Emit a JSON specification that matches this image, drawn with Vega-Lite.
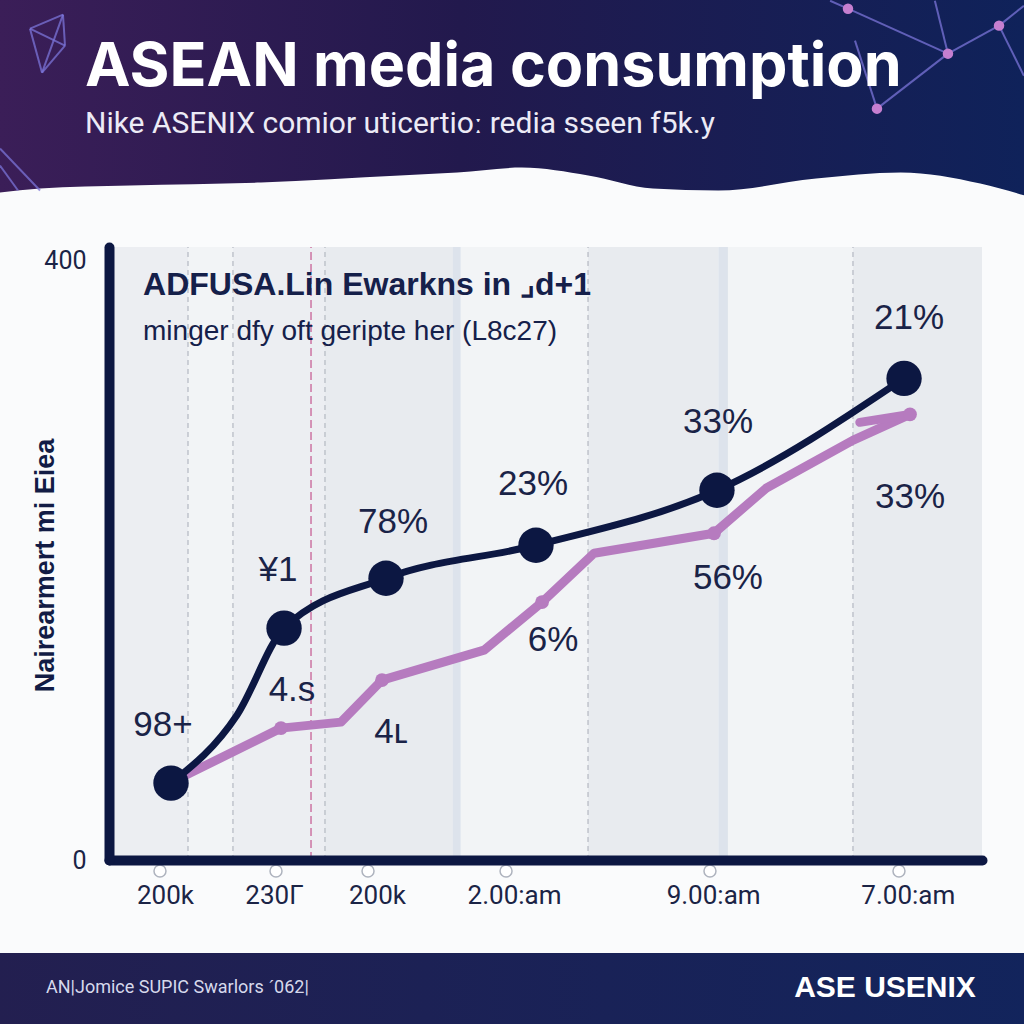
{
  "$schema": "https://vega.github.io/schema/vega-lite/v6.json",
  "width": 873,
  "height": 613,
  "autosize": {"type": "none"},
  "padding": {"left": 109, "top": 247, "right": 42, "bottom": 164},
  "background": "#fafbfc",
  "view": {"stroke": null, "fill": null},
  "config": {"font": "Liberation Sans"},
  "datasets": {
    "bands": [
      {"t": 0, "t2": 9.05, "tone": "mid"},
      {"t": 9.05, "t2": 14.2, "tone": "light"},
      {"t": 14.2, "t2": 24.74, "tone": "mid"},
      {"t": 24.74, "t2": 39.4, "tone": "dark"},
      {"t": 39.4, "t2": 40.3, "tone": "blue"},
      {"t": 40.3, "t2": 54.87, "tone": "light"},
      {"t": 54.87, "t2": 69.8, "tone": "dark"},
      {"t": 69.8, "t2": 70.9, "tone": "blue"},
      {"t": 70.9, "t2": 85.22, "tone": "light"},
      {"t": 85.22, "t2": 100, "tone": "dark"}
    ],
    "grid": [
      {"t": 9.05, "kind": "gray"},
      {"t": 14.2, "kind": "gray"},
      {"t": 24.74, "kind": "gray"},
      {"t": 54.87, "kind": "gray"},
      {"t": 85.22, "kind": "gray"},
      {"t": 23.14, "kind": "pink"}
    ],
    "wave": [
      {"t": -12.6, "v": 445.3},
      {"t": -7.9, "v": 448},
      {"t": 2.4, "v": 450},
      {"t": 17.4, "v": 452},
      {"t": 33.3, "v": 456.7},
      {"t": 39.9, "v": 458.7},
      {"t": 47.3, "v": 462},
      {"t": 54.9, "v": 456.7},
      {"t": 62.3, "v": 448},
      {"t": 69.8, "v": 446.7},
      {"t": 81.0, "v": 454.7},
      {"t": 90.7, "v": 458.7},
      {"t": 99.8, "v": 451.3},
      {"t": 104.9, "v": 443.3}
    ],
    "net": [
      {"seg": "A", "t": 84.65, "v": 568}, {"seg": "A", "t": 96.1, "v": 538},
      {"seg": "B", "t": 96.1, "v": 538}, {"seg": "B", "t": 87.97, "v": 501.3},
      {"seg": "C", "t": 96.1, "v": 538}, {"seg": "C", "t": 101.95, "v": 556.7},
      {"seg": "D", "t": 101.95, "v": 556.7}, {"seg": "D", "t": 104.8, "v": 570},
      {"seg": "E", "t": 96.1, "v": 538}, {"seg": "E", "t": 94.6, "v": 573.3},
      {"seg": "F", "t": 87.97, "v": 501.3}, {"seg": "F", "t": 85.45, "v": 546.7},
      {"seg": "G", "t": 101.95, "v": 556.7}, {"seg": "G", "t": 104.8, "v": 523.3},
      {"seg": "H", "t": 84.65, "v": 568}, {"seg": "H", "t": 82.6, "v": 573.3},
      {"seg": "S1", "t": -5.27, "v": 564}, {"seg": "S1", "t": -9.05, "v": 554.7},
      {"seg": "S2", "t": -9.05, "v": 554.7}, {"seg": "S2", "t": -7.67, "v": 525.3},
      {"seg": "S3", "t": -7.67, "v": 525.3}, {"seg": "S3", "t": -5.27, "v": 564},
      {"seg": "S4", "t": -9.05, "v": 554.7}, {"seg": "S4", "t": -5.04, "v": 543.3},
      {"seg": "S5", "t": -5.04, "v": 543.3}, {"seg": "S5", "t": -7.67, "v": 525.3},
      {"seg": "S6", "t": -5.27, "v": 564}, {"seg": "S6", "t": -5.04, "v": 543.3},
      {"seg": "L1", "t": -12.49, "v": 474.7}, {"seg": "L1", "t": -7.9, "v": 446.7},
      {"seg": "L2", "t": -12.49, "v": 463.3}, {"seg": "L2", "t": -10.42, "v": 446.7}
    ],
    "nodes": [
      {"t": 84.65, "v": 568},
      {"t": 96.1, "v": 538},
      {"t": 101.95, "v": 556.7},
      {"t": 87.97, "v": 501.3}
    ],
    "header": [
      {"t": -2.75, "v": 516.7, "txt": "ASEAN media consumption", "role": "title"},
      {"t": -2.75, "v": 485.3, "txt": "Nike ASENIX comior uticertioː redia sseen f5k.y", "role": "subtitle"}
    ],
    "footer": [
      {"t": -7.22, "v": -85.3, "txt": "AN|Jomice SUPIC Swarlors ˊ062|", "role": "left"},
      {"t": 99.3, "v": -85.3, "txt": "ASE USENIX", "role": "right"}
    ],
    "dark": [
      {"t": 7.1, "v": 51.3, "node": true},
      {"t": 14.66, "v": 96.7, "node": false},
      {"t": 20.05, "v": 154.7, "node": true},
      {"t": 31.73, "v": 188, "node": true},
      {"t": 48.91, "v": 210, "node": true},
      {"t": 69.64, "v": 246.7, "node": true},
      {"t": 91.07, "v": 321.3, "node": true}
    ],
    "pink": [
      {"seg": "main", "t": 7.9, "v": 54, "node": false},
      {"seg": "main", "t": 19.7, "v": 88, "node": true},
      {"seg": "main", "t": 26.57, "v": 92, "node": false},
      {"seg": "main", "t": 31.27, "v": 120, "node": true},
      {"seg": "main", "t": 42.96, "v": 140, "node": false},
      {"seg": "main", "t": 49.6, "v": 172, "node": true},
      {"seg": "main", "t": 55.56, "v": 204.7, "node": false},
      {"seg": "main", "t": 69.3, "v": 218, "node": true},
      {"seg": "main", "t": 75.26, "v": 248, "node": false},
      {"seg": "main", "t": 85.2, "v": 280, "node": false},
      {"seg": "main", "t": 91.75, "v": 297.3, "node": true},
      {"seg": "tip", "t": 86.0, "v": 292, "node": false},
      {"seg": "tip", "t": 91.75, "v": 297.3, "node": false}
    ],
    "labels": [
      {"t": 6.19, "v": 90, "txt": "98+"},
      {"t": 19.36, "v": 193.3, "txt": "¥1"},
      {"t": 32.53, "v": 225.3, "txt": "78%"},
      {"t": 48.57, "v": 250.7, "txt": "23%"},
      {"t": 69.76, "v": 292, "txt": "33%"},
      {"t": 91.64, "v": 361.3, "txt": "21%"},
      {"t": 20.96, "v": 113.3, "txt": "4.s"},
      {"t": 32.3, "v": 85.3, "txt": "4ʟ"},
      {"t": 50.86, "v": 146.7, "txt": "6%"},
      {"t": 70.9, "v": 188, "txt": "56%"},
      {"t": 91.75, "v": 242, "txt": "33%"}
    ],
    "ticks": [
      {"t": 5.84}, {"t": 19.13}, {"t": 29.67}, {"t": 45.48}, {"t": 68.84}, {"t": 90.49}
    ],
    "heading": [
      {"t": 3.9, "v": 376.7, "txt": "ADFUSA.Lin Ewarkns in ⌟d+1", "role": "head"},
      {"t": 3.9, "v": 346.7, "txt": "minger dfy oft geripte her (L8c27)", "role": "sub"}
    ]
  },
  "layer": [
    {
      "data": {"name": "bands"},
      "mark": {"type": "rect"},
      "encoding": {
        "x": {"field": "t", "type": "quantitative"},
        "x2": {"field": "t2"},
        "y": {"datum": 0, "type": "quantitative"},
        "y2": {"datum": 409},
        "color": {
          "field": "tone",
          "type": "nominal",
          "scale": {"domain": ["light", "mid", "dark", "blue"], "range": ["#f2f4f6", "#eceef2", "#e8ebef", "#dde3ec"]},
          "legend": null
        }
      }
    },
    {
      "data": {"name": "grid"},
      "transform": [{"filter": "datum.kind === 'gray'"}],
      "mark": {"type": "rule", "color": "#b4b8c2", "strokeWidth": 1.2, "strokeDash": [5, 4]},
      "encoding": {
        "x": {"field": "t", "type": "quantitative"},
        "y": {"datum": 0, "type": "quantitative"},
        "y2": {"datum": 409}
      }
    },
    {
      "data": {"name": "grid"},
      "transform": [{"filter": "datum.kind === 'pink'"}],
      "mark": {"type": "rule", "color": "#c4568f", "strokeWidth": 1.2, "strokeDash": [8, 4]},
      "encoding": {
        "x": {"field": "t", "type": "quantitative"},
        "y": {"datum": 0, "type": "quantitative"},
        "y2": {"datum": 409}
      }
    },
    {
      "data": {"name": "wave"},
      "mark": {
        "type": "area",
        "interpolate": "monotone",
        "color": {
          "gradient": "linear",
          "x1": 0, "y1": 0, "x2": 1, "y2": 0,
          "stops": [
            {"offset": 0, "color": "#3b1e58"},
            {"offset": 0.45, "color": "#22194d"},
            {"offset": 1, "color": "#0f225a"}
          ]
        }
      },
      "encoding": {
        "x": {"field": "t", "type": "quantitative"},
        "y": {"field": "v", "type": "quantitative"},
        "y2": {"datum": 580}
      }
    },
    {
      "data": {"name": "net"},
      "mark": {"type": "line", "color": "#7b74d8", "strokeWidth": 2, "opacity": 0.75},
      "encoding": {
        "x": {"field": "t", "type": "quantitative"},
        "y": {"field": "v", "type": "quantitative"},
        "detail": {"field": "seg"}
      }
    },
    {
      "data": {"name": "nodes"},
      "mark": {"type": "circle", "color": "#c67fd0", "size": 110, "opacity": 1},
      "encoding": {
        "x": {"field": "t", "type": "quantitative"},
        "y": {"field": "v", "type": "quantitative"}
      }
    },
    {
      "data": {"name": "header"},
      "transform": [{"filter": "datum.role === 'title'"}],
      "mark": {"type": "text", "align": "left", "baseline": "alphabetic", "font": "Inter", "fontWeight": 700, "fontSize": 61, "color": "#ffffff"},
      "encoding": {
        "x": {"field": "t", "type": "quantitative"},
        "y": {"field": "v", "type": "quantitative"},
        "text": {"field": "txt"}
      }
    },
    {
      "data": {"name": "header"},
      "transform": [{"filter": "datum.role === 'subtitle'"}],
      "mark": {"type": "text", "align": "left", "baseline": "alphabetic", "font": "Roboto", "fontSize": 30, "color": "#ecebf6"},
      "encoding": {
        "x": {"field": "t", "type": "quantitative"},
        "y": {"field": "v", "type": "quantitative"},
        "text": {"field": "txt"}
      }
    },
    {
      "data": {"values": [{"band": "footer"}]},
      "mark": {
        "type": "rect",
        "color": {
          "gradient": "linear",
          "x1": 0, "y1": 0, "x2": 1, "y2": 0,
          "stops": [
            {"offset": 0, "color": "#231f50"},
            {"offset": 1, "color": "#12245c"}
          ]
        }
      },
      "encoding": {
        "x": {"datum": -13, "type": "quantitative"},
        "x2": {"datum": 106},
        "y": {"datum": -62, "type": "quantitative"},
        "y2": {"datum": -115}
      }
    },
    {
      "data": {"name": "footer"},
      "transform": [{"filter": "datum.role === 'left'"}],
      "mark": {"type": "text", "align": "left", "baseline": "middle", "font": "Roboto", "fontSize": 18, "color": "#d6d9ec"},
      "encoding": {
        "x": {"field": "t", "type": "quantitative"},
        "y": {"field": "v", "type": "quantitative"},
        "text": {"field": "txt"}
      }
    },
    {
      "data": {"name": "footer"},
      "transform": [{"filter": "datum.role === 'right'"}],
      "mark": {"type": "text", "align": "right", "baseline": "middle", "font": "Liberation Sans", "fontWeight": "bold", "fontSize": 30, "color": "#ffffff"},
      "encoding": {
        "x": {"field": "t", "type": "quantitative"},
        "y": {"field": "v", "type": "quantitative"},
        "text": {"field": "txt"}
      }
    },
    {
      "data": {"name": "heading"},
      "transform": [{"filter": "datum.role === 'head'"}],
      "mark": {"type": "text", "align": "left", "baseline": "alphabetic", "font": "Liberation Sans", "fontWeight": "bold", "fontSize": 32, "color": "#15204a"},
      "encoding": {
        "x": {"field": "t", "type": "quantitative"},
        "y": {"field": "v", "type": "quantitative"},
        "text": {"field": "txt"}
      }
    },
    {
      "data": {"name": "heading"},
      "transform": [{"filter": "datum.role === 'sub'"}],
      "mark": {"type": "text", "align": "left", "baseline": "alphabetic", "font": "Liberation Sans", "fontSize": 28, "color": "#15204a"},
      "encoding": {
        "x": {"field": "t", "type": "quantitative"},
        "y": {"field": "v", "type": "quantitative"},
        "text": {"field": "txt"}
      }
    },
    {
      "data": {"name": "pink"},
      "mark": {"type": "line", "color": "#b67bbf", "strokeWidth": 9, "strokeCap": "round", "strokeJoin": "round"},
      "encoding": {
        "x": {"field": "t", "type": "quantitative"},
        "y": {"field": "v", "type": "quantitative"},
        "detail": {"field": "seg"}
      }
    },
    {
      "data": {"name": "pink"},
      "transform": [{"filter": "datum.node"}],
      "mark": {"type": "circle", "color": "#b67bbf", "size": 190, "opacity": 1},
      "encoding": {
        "x": {"field": "t", "type": "quantitative"},
        "y": {"field": "v", "type": "quantitative"}
      }
    },
    {
      "data": {"name": "dark"},
      "mark": {"type": "line", "color": "#0c1742", "strokeWidth": 7, "interpolate": "monotone", "strokeCap": "round"},
      "encoding": {
        "x": {
          "field": "t",
          "type": "quantitative",
          "scale": {"domain": [0, 100], "nice": false, "zero": false},
          "axis": {
            "values": [6.41, 18.9, 30.7, 46.4, 69.2, 91.5],
            "labelExpr": "datum.value < 12 ? '200k' : datum.value < 25 ? '230Γ' : datum.value < 40 ? '200k' : datum.value < 60 ? '2.00:am' : datum.value < 80 ? '9.00:am' : '7.00:am'",
            "title": null,
            "domainColor": "#0c1742",
            "domainWidth": 10,
            "domainCap": "round",
            "ticks": false,
            "grid": false,
            "labelFont": "Roboto",
            "labelFontSize": 26,
            "labelColor": "#1b2446",
            "labelPadding": 22,
            "labelFlush": false,
            "labelOverlap": false,
            "zindex": 1
          }
        },
        "y": {
          "field": "v",
          "type": "quantitative",
          "scale": {"domain": [0, 409], "nice": false, "zero": false},
          "axis": {
            "values": [0, 400],
            "title": "Nairearmert mi Eiea",
            "titleFont": "Liberation Sans",
            "titleFontSize": 27,
            "titleFontWeight": "bold",
            "titleColor": "#121c45",
            "titleX": -50,
            "titleY": 318,
            "domainColor": "#0c1742",
            "domainWidth": 10,
            "domainCap": "round",
            "ticks": false,
            "grid": false,
            "labelFont": "Roboto",
            "labelFontSize": 25,
            "labelColor": "#1b2446",
            "labelPadding": 23,
            "labelFlush": false,
            "zindex": 1
          }
        }
      }
    },
    {
      "data": {"name": "dark"},
      "transform": [{"filter": "datum.node"}],
      "mark": {"type": "circle", "color": "#0c1742", "size": 1250, "opacity": 1},
      "encoding": {
        "x": {"field": "t", "type": "quantitative"},
        "y": {"field": "v", "type": "quantitative"}
      }
    },
    {
      "data": {"name": "labels"},
      "mark": {"type": "text", "align": "center", "baseline": "middle", "font": "Liberation Sans", "fontSize": 35, "color": "#1a2347"},
      "encoding": {
        "x": {"field": "t", "type": "quantitative"},
        "y": {"field": "v", "type": "quantitative"},
        "text": {"field": "txt"}
      }
    },
    {
      "data": {"name": "ticks"},
      "mark": {"type": "point", "shape": "circle", "filled": true, "fill": "#ffffff", "stroke": "#aeb3be", "strokeWidth": 1.5, "size": 144, "opacity": 1},
      "encoding": {
        "x": {"field": "t", "type": "quantitative"},
        "y": {"datum": -7.3, "type": "quantitative"}
      }
    }
  ]
}
